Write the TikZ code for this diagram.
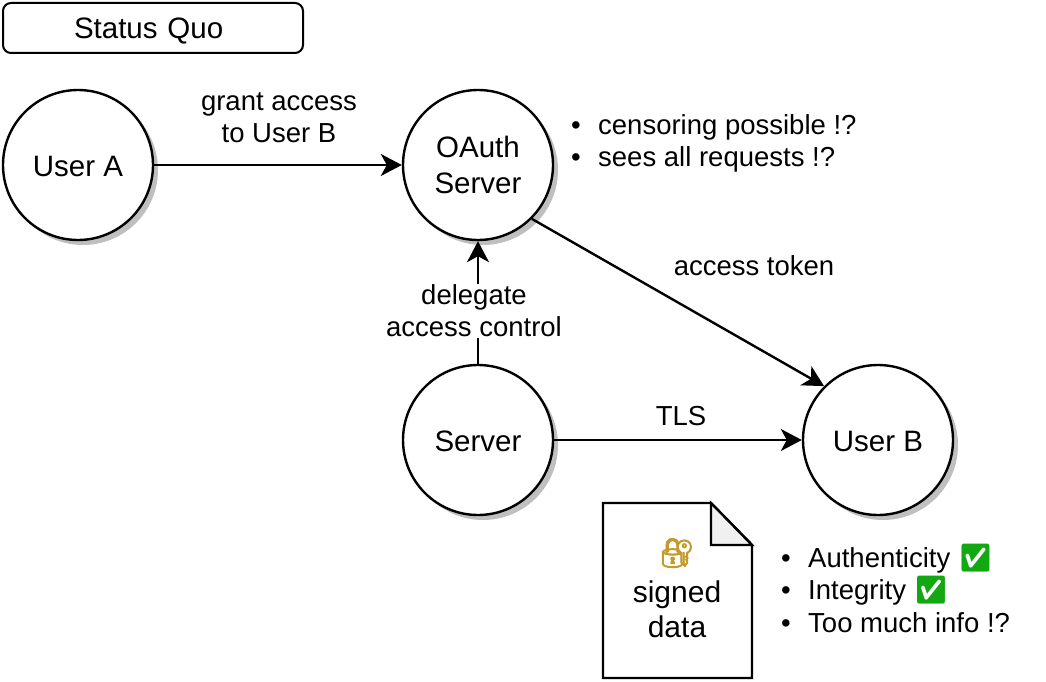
\documentclass[tikz,border=0pt]{standalone}
\usepackage{fontspec}
\setmainfont{Liberation Sans}
\newfontfamily\emojifont{Noto Emoji}
\newfontfamily\lockfont[FakeBold=3]{Noto Emoji}
\usepackage{xcolor}
\usepackage{tikz}
\usetikzlibrary{arrows.meta,shadows}
\definecolor{checkgreen}{HTML}{12A812}
\definecolor{lockgold}{HTML}{C49A2C}
\newcommand{\itm}[1]{\makebox[27pt][l]{\textbullet}#1}
\newcommand{\okmark}{{\emojifont\color{checkgreen}\symbol{"2705}}}

\begin{document}
\begin{tikzpicture}[x=1pt,y=1pt,->,>={Stealth[length=21pt,width=22pt,inset=6pt]},line width=2.4pt,
  node distance=400pt,
  main node/.style={circle,draw,fill=white,minimum size=150pt,inner sep=0pt,align=center,
    font=\fontsize{29.5}{36}\selectfont,
    drop shadow={shadow xshift=5pt,shadow yshift=-5pt,fill=black!25,opacity=1}},
  single node/.style={main node,text height=22pt,text depth=0pt},
  title node/.style={rectangle,draw,rounded corners=8pt,minimum height=50pt,inner xsep=0pt,
    line width=2pt,text height=22pt,text depth=0pt,font=\fontsize{29.5}{36}\selectfont},
  edge label/.style={align=center,font=\fontsize{27.5}{32}\selectfont},
  list node/.style={align=left,inner sep=0pt,font=\fontsize{27.5}{32.5}\selectfont}]

  \useasboundingbox (0,0) rectangle (1046,-682);

  \node[title node,text width=300pt,align=left] (title) at (153,-28) {\hspace{71pt}Status Quo};

  \node[single node] (usera) at (78,-165) {User A};
  \node[main node] (oauth) [right of=usera] {OAuth\\Server};
  \node[single node] (server) [below of=oauth,node distance=275pt] {Server};
  \node[single node] (userb) [right of=server] {User B};

  \path[every node/.style={edge label}]
  (usera) edge node [above=18pt,xshift=1pt] {grant access\\to User B} (oauth)
  (oauth.south east) edge node [pos=0.5,xshift=76pt,yshift=37pt] {access token} (userb.north west)
  (server) edge node [pos=0.43,xshift=-4pt,fill=white,inner xsep=1pt,inner ysep=1pt] {delegate\\access control} (oauth)
  (server) edge node [above=10pt,xshift=3pt] {TLS} (userb);

  \node[list node,anchor=west] (oauthnotes) at (570,-143.5) {\itm{censoring possible !?}\\\itm{sees all requests !?}};

  \draw[-] (603,-503) -- (711,-503) -- (752,-545) -- (752,-678) -- (603,-678) -- cycle;
  \draw[-,fill=black!6] (711,-503) -- (752,-545) -- (711,-545) -- cycle;
  \node[align=center,font=\fontsize{30}{35}\selectfont] (data) at (677,-592)
    {\raisebox{5pt}[22pt][0pt]{\lockfont\fontsize{29}{35}\selectfont\color{lockgold}\symbol{"1F510}}\\signed\\data};

  \node[list node,anchor=west] (datanotes) at (780,-588) {\itm{Authenticity \okmark}\\\itm{Integrity \okmark}\\\itm{Too much info !?}};

\end{tikzpicture}
\end{document}
